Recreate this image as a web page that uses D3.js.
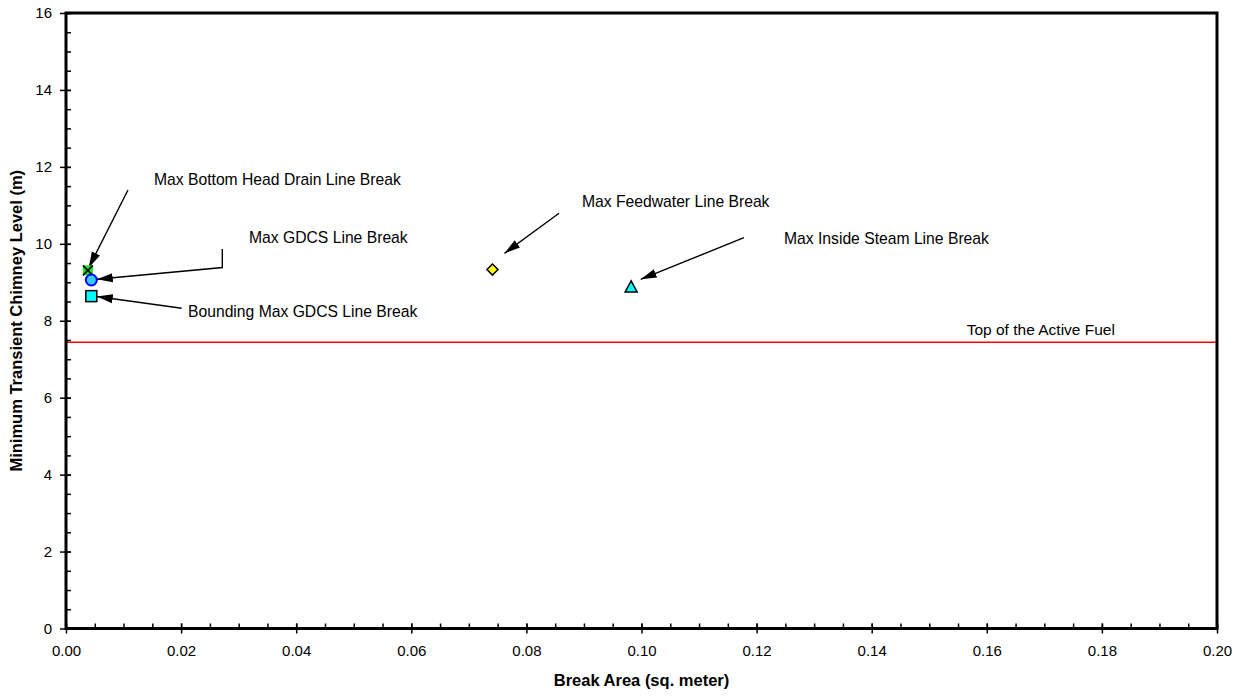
<!DOCTYPE html>
<html><head><meta charset="utf-8">
<script src="https://cdn.jsdelivr.net/npm/d3@7"></script>
<style>
html,body{margin:0;padding:0;background:#fff;}
svg{display:block;font-family:"Liberation Sans",Arial,sans-serif;}
</style></head>
<body>
<svg id="chart" width="1244" height="696"></svg>
<script>
// ---- data ----
const seriesNames = ["Max Bottom Head Drain Line Break","Max GDCS Line Break","Bounding Max GDCS Line Break","Max Feedwater Line Break","Max Inside Steam Line Break"];
const breakArea = [0.0038, 0.0044, 0.0044, 0.0741, 0.0982];
const chimneyLevel = [9.31, 9.06, 8.64, 9.33, 8.88];
const markerShapes = ["squareX","circle","square","diamond","triangle"];
const topOfActiveFuel = 7.44;
const fuelLabel = "Top of the Active Fuel";
const xTicks = [0,0.02,0.04,0.06,0.08,0.10,0.12,0.14,0.16,0.18,0.20];
const yTicks = [0,2,4,6,8,10,12,14,16];
const xTitle = "Break Area (sq. meter)";
const yTitle = "Minimum Transient Chimney Level (m)";
// annotation anchors (data units): label left/middle, arrow path points
const labelAt = [[0.01529,11.63],[0.0318,10.125],[0.0212,8.201],[0.08966,11.061],[0.12476,10.099]];
const arrowPaths = [
  [[0.01077,11.40],[0.00395,9.38]],
  [[0.02716,9.865],[0.02716,9.384],[0.00535,9.077]],
  [[0.0201,8.324],[0.00535,8.630]],
  [[0.08567,10.793],[0.07619,9.753]],
  [[0.11781,10.159],[0.09986,9.077]]
];
const fuelLabelAt = [0.15651,7.741];

// ---- layout ----
const L=66, R=1217, T=13, B=628.5;
const svg = d3.select("#chart");
const x = d3.scaleLinear().domain([0,0.20]).range([L,R]);
const y = d3.scaleLinear().domain([0,16]).range([B,T]);

const defs = svg.append("defs");
defs.append("marker").attr("id","ah").attr("markerUnits","userSpaceOnUse")
  .attr("viewBox","0 -5 16 10").attr("refX",16).attr("refY",0)
  .attr("markerWidth",16).attr("markerHeight",10).attr("orient","auto")
  .append("path").attr("d","M0,-4.5L16,0L0,4.5Z").attr("fill","#000");

// red reference line
svg.append("line").attr("x1",x(0)).attr("x2",x(0.20))
  .attr("y1",y(topOfActiveFuel)).attr("y2",y(topOfActiveFuel))
  .attr("stroke","#ff0000").attr("stroke-width",1.6);
svg.append("text").attr("x",x(fuelLabelAt[0])).attr("y",y(fuelLabelAt[1]))
  .attr("dominant-baseline","middle").attr("font-size",15.5).text(fuelLabel);

// axes
const minorX = d3.range(0,0.2001,0.005);
const minorY = d3.range(0,16.01,0.5);
const gx = svg.append("g").attr("transform",`translate(0,${B})`)
  .call(d3.axisBottom(x).tickValues(minorX).tickSize(-5).tickFormat(""));
gx.select(".domain").remove();
const gx2 = svg.append("g").attr("transform",`translate(0,${B})`)
  .call(d3.axisBottom(x).tickValues(xTicks).tickSize(5).tickPadding(12).tickFormat(d3.format(".2f")));
gx2.select(".domain").remove();
gx2.selectAll(".tick line").attr("y1",-5).attr("y2",5).attr("stroke-width",1.5);
gx2.selectAll(".tick text").attr("font-size",15).attr("font-family","Liberation Sans, Arial, sans-serif").attr("fill","#000");
gx.selectAll(".tick line").attr("stroke-width",1.5);

const gy = svg.append("g").attr("transform",`translate(${L},0)`)
  .call(d3.axisLeft(y).tickValues(minorY).tickSize(-5).tickFormat(""));
gy.select(".domain").remove();
gy.selectAll(".tick line").attr("stroke-width",1.5);
const gy2 = svg.append("g").attr("transform",`translate(${L},0)`)
  .call(d3.axisLeft(y).tickValues(yTicks).tickSize(6).tickPadding(8).tickFormat(d3.format("d")));
gy2.select(".domain").remove();
gy2.selectAll(".tick line").attr("x1",5).attr("x2",-6).attr("stroke-width",1.5);
gy2.selectAll(".tick text").attr("font-size",15).attr("font-family","Liberation Sans, Arial, sans-serif").attr("fill","#000");

// frame
svg.append("rect").attr("x",L).attr("y",T).attr("width",R-L).attr("height",B-T)
  .attr("fill","none").attr("stroke","#000").attr("stroke-width",3);

// titles
svg.append("text").attr("x",(L+R)/2).attr("y",682).attr("text-anchor","middle")
  .attr("dominant-baseline","middle").attr("font-weight","bold").attr("font-size",16.5).text(xTitle);
svg.append("text").attr("transform",`translate(18,${(T+B)/2}) rotate(-90)`).attr("text-anchor","middle")
  .attr("dominant-baseline","middle").attr("font-weight","bold").attr("font-size",16.5).text(yTitle);

// annotations
const line = d3.line().x(d=>x(d[0])).y(d=>y(d[1]));
arrowPaths.forEach(p=>{
  svg.append("path").attr("d",line(p)).attr("fill","none").attr("stroke","#000")
    .attr("stroke-width",1.4).attr("marker-end","url(#ah)");
});
seriesNames.forEach((n,i)=>{
  svg.append("text").attr("x",x(labelAt[i][0])).attr("y",y(labelAt[i][1]))
    .attr("dominant-baseline","middle").attr("font-size",15.7).attr("fill","#000").text(n);
});

// markers
const pts = seriesNames.map((n,i)=>({n,x:breakArea[i],y:chimneyLevel[i],shape:markerShapes[i]}));
const g = svg.append("g");
pts.forEach(d=>{
  const gg = g.append("g").attr("transform",`translate(${x(d.x)},${y(d.y)})`);
  if(d.shape==="squareX"){
    gg.append("rect").attr("x",-5).attr("y",-5).attr("width",10).attr("height",10).attr("fill","#22dd22");
    gg.append("path").attr("d","M-5,-5L5,5M-5,5L5,-5").attr("stroke","#000").attr("stroke-width",1.5);
  } else if(d.shape==="circle"){
    gg.append("circle").attr("r",5.5).attr("fill","#33ccff").attr("stroke","#0000ff").attr("stroke-width",2);
  } else if(d.shape==="square"){
    gg.append("rect").attr("x",-5.5).attr("y",-5.5).attr("width",11).attr("height",11).attr("fill","#00ffff").attr("stroke","#000").attr("stroke-width",1.5);
  } else if(d.shape==="diamond"){
    gg.append("path").attr("d","M0,-5.5L5.5,0L0,5.5L-5.5,0Z").attr("fill","#ffff00").attr("stroke","#000").attr("stroke-width",1.5);
  } else {
    gg.append("path").attr("d","M0,-6L6,5L-6,5Z").attr("fill","#00ffff").attr("stroke","#000").attr("stroke-width",1.5);
  }
});
</script>
</body></html>
